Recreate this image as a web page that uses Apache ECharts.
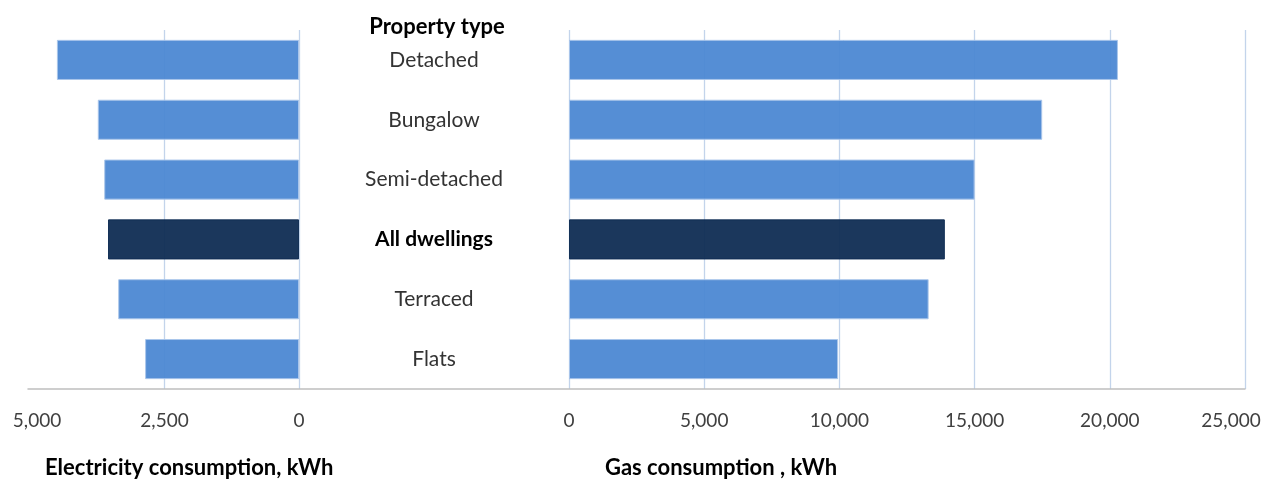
<!DOCTYPE html>
<html>
<head>
<meta charset="utf-8">
<script src="https://cdn.jsdelivr.net/npm/echarts@6/dist/echarts.min.js"></script>
<style>
  html, body { margin: 0; padding: 0; background: #ffffff; }
  #chart { width: 1266px; height: 481px; }
</style>
</head>
<body>
<div id="chart"></div>
<script>
// Average annual household consumption by property type
const propertyTypes = ['Detached', 'Bungalow', 'Semi-detached', 'All dwellings', 'Terraced', 'Flats'];
const electricityKWh = [4500, 3740, 3620, 3550, 3360, 2860];
const gasKWh = [20300, 17500, 15000, 13900, 13300, 9950];
const electricityTicks = [0, 2500, 5000];
const gasTicks = [0, 5000, 10000, 15000, 20000, 25000];
const summaryType = 'All dwellings';

const FONT = 'Lato, "Open Sans", "Liberation Sans", sans-serif';
const BAR = '#4C88D3';
const BAR_DARK = '#0F2C53';
const GRID_LINE = '#C3D4EB';

const fmt = v => v.toLocaleString('en-US');

function barData(values) {
  return values.map((v, i) => ({
    value: v,
    itemStyle: propertyTypes[i] === summaryType
      ? { color: BAR_DARK, borderColor: BAR_DARK }
      : { color: BAR, borderColor: '#A9C5EA' }
  }));
}

const categoryData = propertyTypes.map(t => t === summaryType
  ? { value: t, textStyle: { fontWeight: 'bold', color: '#000000', align: 'center', fontSize: 21, fontFamily: FONT } }
  : t);

const chart = echarts.init(document.getElementById('chart'), null, { renderer: 'canvas' });

chart.setOption({
  animation: false,
  backgroundColor: '#ffffff',
  textStyle: { fontFamily: FONT },
  grid: [
    { left: 30, width: 269, top: 30, height: 359 },   // electricity
    { left: 569, width: 676, top: 30, height: 359 },  // gas
    { left: 28, right: 21, top: 30, height: 359 }     // shared baseline
  ],
  xAxis: [
    {
      gridIndex: 0, type: 'value', inverse: true,
      min: electricityTicks[0], max: electricityTicks[electricityTicks.length - 1],
      interval: electricityTicks[1] - electricityTicks[0],
      axisLine: { show: false }, axisTick: { show: false },
      splitLine: { show: true, showMaxLine: false, lineStyle: { color: GRID_LINE, width: 1.3 } },
      axisLabel: {
        margin: 22, fontSize: 19, color: '#404040', fontFamily: FONT,
        formatter: v => v === electricityTicks[electricityTicks.length - 1] ? '{edge|' + fmt(v) + '}' : fmt(v),
        rich: { edge: { fontSize: 19, color: '#404040', fontFamily: FONT, padding: [0, 0, 0, 14] } }
      }
    },
    {
      gridIndex: 1, type: 'value',
      min: gasTicks[0], max: gasTicks[gasTicks.length - 1],
      interval: gasTicks[1] - gasTicks[0],
      axisLine: { show: false }, axisTick: { show: false },
      splitLine: { show: true, lineStyle: { color: GRID_LINE, width: 1.3 } },
      axisLabel: {
        margin: 22, fontSize: 19, color: '#404040', fontFamily: FONT,
        formatter: v => v === gasTicks[gasTicks.length - 1] ? '{edge|' + fmt(v) + '}' : fmt(v),
        rich: { edge: { fontSize: 19, color: '#404040', fontFamily: FONT, padding: [0, 28, 0, 0] } }
      }
    },
    {
      gridIndex: 2, type: 'value', min: 0, max: 1,
      axisLine: { show: true, lineStyle: { color: '#BFBFBF', width: 1.5 } },
      axisTick: { show: false }, axisLabel: { show: false }, splitLine: { show: false }
    }
  ],
  yAxis: [
    {
      gridIndex: 0, type: 'category', inverse: true, data: propertyTypes,
      axisLine: { show: false }, axisTick: { show: false }, axisLabel: { show: false }
    },
    {
      gridIndex: 1, type: 'category', inverse: true, data: categoryData,
      axisLine: { show: false }, axisTick: { show: false },
      axisLabel: {
        show: true, align: 'center', margin: 135,
        fontSize: 21, color: '#333333', fontFamily: FONT,
        padding: [8, 0, 0, 0]
      }
    },
    { gridIndex: 2, type: 'value', show: false }
  ],
  series: [
    {
      name: 'Electricity consumption', type: 'bar',
      xAxisIndex: 0, yAxisIndex: 0,
      data: barData(electricityKWh),
      barCategoryGap: '33%',
      itemStyle: { opacity: 0.95, borderWidth: 1 }
    },
    {
      name: 'Gas consumption', type: 'bar',
      xAxisIndex: 1, yAxisIndex: 1,
      data: barData(gasKWh),
      barCategoryGap: '33%',
      itemStyle: { opacity: 0.95, borderWidth: 1 }
    }
  ],
  graphic: [
    {
      type: 'text', x: 437, y: 27,
      style: { text: 'Property type', fontFamily: FONT, fontSize: 22, fontWeight: 'bold',
               fill: '#000000', align: 'center', verticalAlign: 'middle' }
    },
    {
      type: 'text', x: 45, y: 468,
      style: { text: 'Electricity consumption, kWh', fontFamily: FONT, fontSize: 22, fontWeight: 'bold',
               fill: '#000000', align: 'left', verticalAlign: 'middle' }
    },
    {
      type: 'text', x: 605, y: 468,
      style: { text: 'Gas consumption , kWh', fontFamily: FONT, fontSize: 22, fontWeight: 'bold',
               fill: '#000000', align: 'left', verticalAlign: 'middle' }
    }
  ]
});
</script>
</body>
</html>
